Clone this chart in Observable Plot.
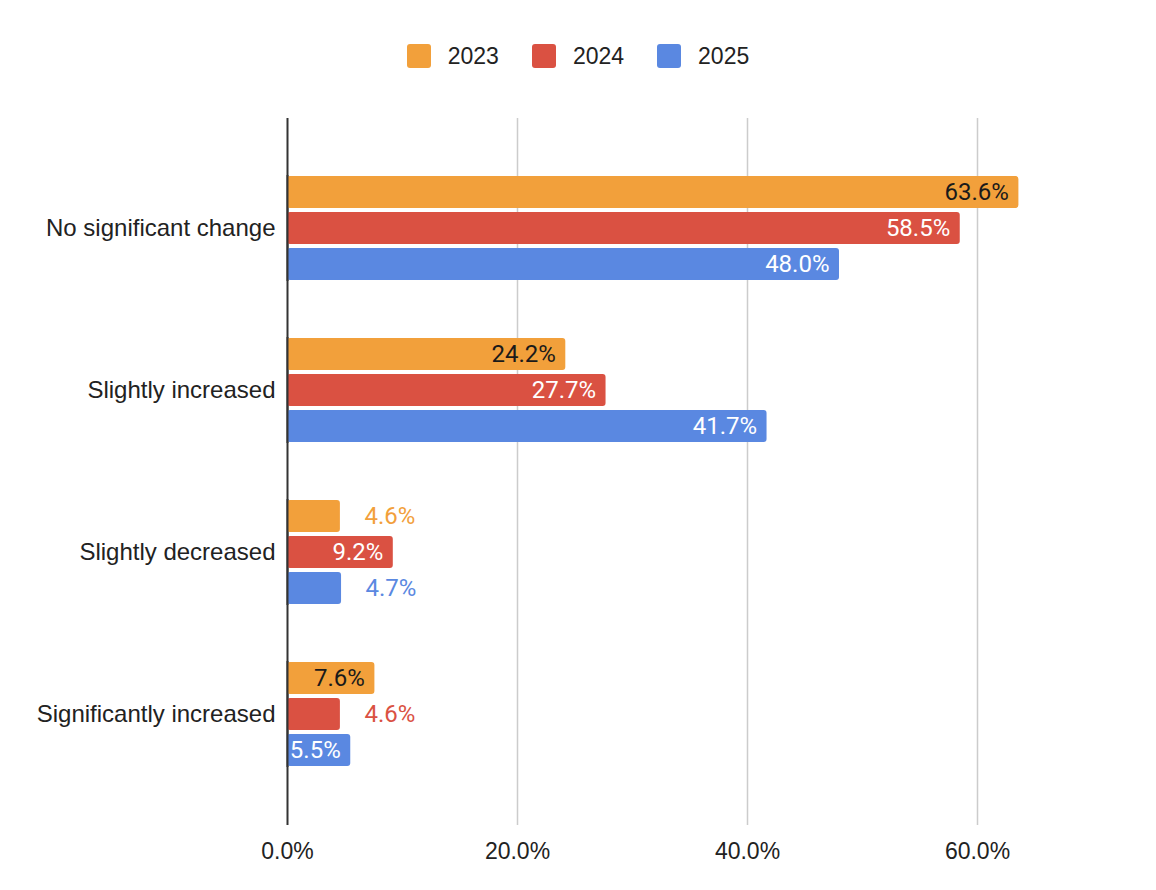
<!DOCTYPE html>
<html>
<head>
<meta charset="utf-8">
<script src="https://cdn.jsdelivr.net/npm/d3@7"></script>
<script src="https://cdn.jsdelivr.net/npm/@observablehq/plot@0.6"></script>
<style>
  body { margin: 0; background: #fff; font-family: "Liberation Sans", Arial, sans-serif; }
  #legend { height: 100px; display: flex; justify-content: center; align-items: flex-start; gap: 33px; box-sizing: border-box; padding-top: 44px; }
  .item { display: flex; align-items: center; height: 24px; font-size: 23px; color: #222; }
  .sw { width: 24px; height: 24px; border-radius: 3px; margin-right: 17px; }
  #chart { position: relative; width: 1156px; height: 790px; }
  #chart svg { position: absolute; left: 0; top: 0; }
</style>
</head>
<body>
<div id="legend"></div>
<div id="chart"></div>
<script>
const categories = ["No significant change", "Slightly increased", "Slightly decreased", "Significantly increased"];
const years = ["2023", "2024", "2025"];
const values2023 = [63.6, 24.2, 4.6, 7.6];
const values2024 = [58.5, 27.7, 9.2, 4.6];
const values2025 = [48.0, 41.7, 4.7, 5.5];
const colors = ["#f2a03b", "#da5142", "#5a88e1"];
const tickValues = [0, 20, 40, 60];

const series = [values2023, values2024, values2025];
const rows = [];
categories.forEach((c, i) => years.forEach((y, j) => rows.push({category: c, year: y, value: series[j][i]})));

const legend = document.getElementById("legend");
years.forEach((y, j) => {
  const it = document.createElement("div");
  it.className = "item";
  it.innerHTML = `<span class="sw" style="background:${colors[j]}"></span><span>${y}</span>`;
  legend.appendChild(it);
});

const fmt = d => d.value.toFixed(1) + "%";
const inside = rows.filter(d => d.value >= 5);
const outside = rows.filter(d => d.value < 5);

const common = {
  width: 1156,
  height: 790,
  marginTop: 18,
  marginBottom: 65,
  marginLeft: 287,
  marginRight: 64
};
const xScale = {domain: [0, 70], ticks: tickValues, tickFormat: d => d.toFixed(1) + "%", tickSize: 0, tickPadding: 17, label: null};

// background layer: grid lines, zero axis and x tick labels over the whole frame
const back = Plot.plot({
  ...common,
  style: {fontFamily: "'Liberation Sans', Arial, sans-serif", fontSize: "23px", color: "#222", background: "transparent", overflow: "visible"},
  x: xScale,
  marks: [
    Plot.ruleX(tickValues.filter(d => d > 0), {stroke: "#cccccc", strokeWidth: 1.5}),
    Plot.ruleX([0], {stroke: "#333", strokeWidth: 2})
  ]
});

// foreground layer: grouped bars per category facet
const front = Plot.plot({
  ...common,
  style: {fontFamily: "'Liberation Sans', Arial, sans-serif", fontSize: "24px", color: "#222", background: "transparent", overflow: "visible"},
  x: {...xScale, axis: null},
  y: {domain: years, axis: null, paddingInner: 0.11, paddingOuter: 0},
  fy: {domain: categories, paddingInner: 0.345, paddingOuter: 0.3525, axis: "left", label: null, tickSize: 0, tickPadding: 12},
  color: {domain: years, range: colors},
  marks: [
    Plot.barX(rows, {x: "value", y: "year", fy: "category", fill: "year", rx: 3}),
    Plot.ruleX([0], {stroke: "#333", strokeWidth: 2}),
    Plot.text(inside.filter(d => d.year === "2023"), {x: "value", y: "year", fy: "category", text: fmt, textAnchor: "end", dx: -10, fill: "#1a1a1a", fontFamily: "Roboto", fontSize: 24}),
    Plot.text(inside.filter(d => d.year !== "2023"), {x: "value", y: "year", fy: "category", text: fmt, textAnchor: "end", dx: -10, fill: "#ffffff", fontFamily: "Roboto", fontSize: 24}),
    Plot.text(outside, {x: "value", y: "year", fy: "category", text: fmt, textAnchor: "start", dx: 24, fill: "year", fontFamily: "Roboto", fontSize: 24})
  ]
});
const chartDiv = document.getElementById("chart");
chartDiv.appendChild(back);
chartDiv.appendChild(front);
</script>
</body>
</html>
